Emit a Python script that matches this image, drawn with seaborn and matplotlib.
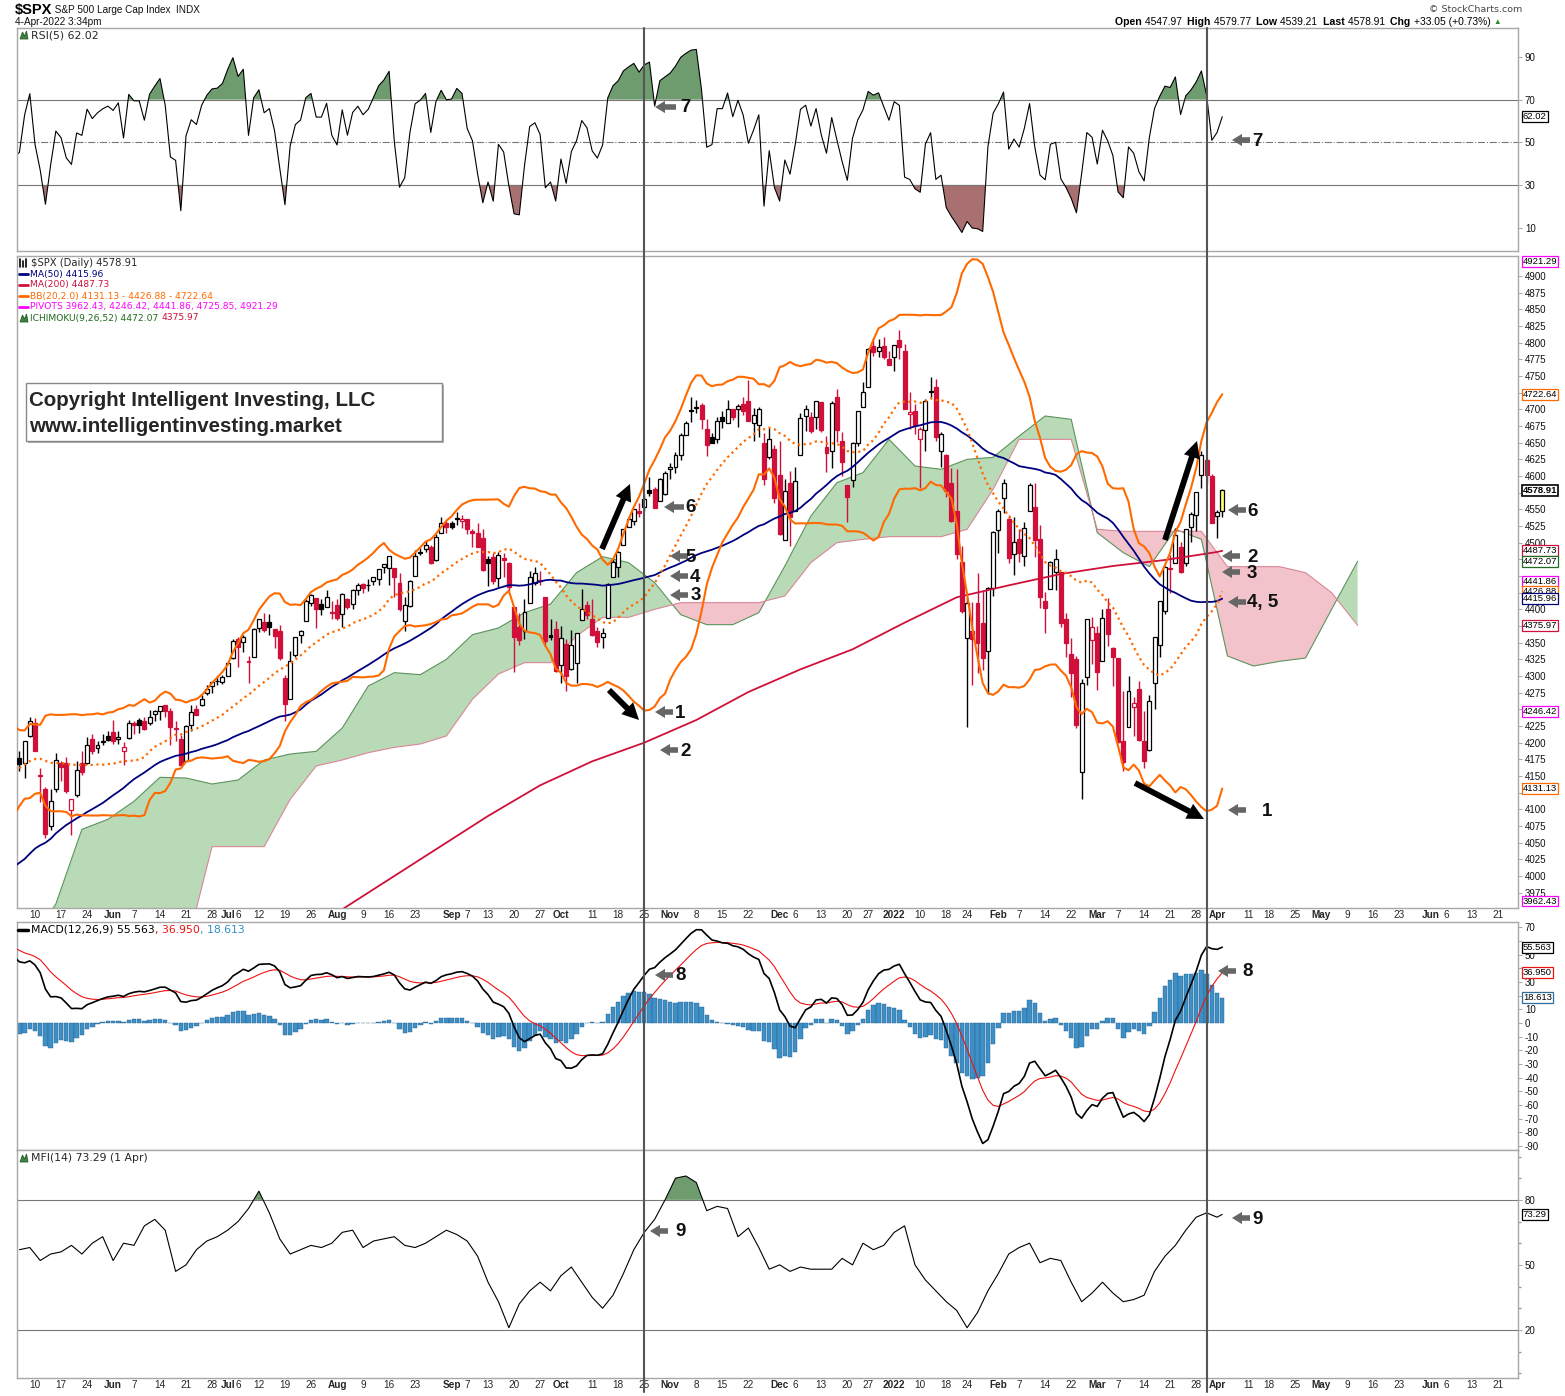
import numpy as np
import pandas as pd
import matplotlib
matplotlib.use("Agg")
import matplotlib.pyplot as plt
import seaborn as sns
from matplotlib.transforms import blended_transform_factory

# ---------------- data ----------------
holidays = ["2021-04-02", "2021-05-31", "2021-07-05", "2021-09-06", "2021-11-25", "2021-12-24",
            "2022-01-17", "2022-02-21", "2022-04-15", "2022-05-30", "2022-06-20"]

# closes before the first visible bar (2021-02-23 .. 2021-05-04), used to warm up the indicators
pre_close = [3881, 3925, 3829, 3811, 3902, 3870, 3820, 3768, 3842, 3821, 3875, 3899, 3939, 3943,
             3969, 3963, 3974, 3915, 3913, 3941, 3911, 3889, 3910, 3975, 3971, 3959, 3973, 4020,
             4078, 4074, 4080, 4097, 4129, 4128, 4142, 4125, 4170, 4185, 4163, 4135, 4173, 4135,
             4180, 4188, 4187, 4183, 4211, 4181, 4193, 4165]

# visible daily bars 2021-05-05 .. 2022-04-04
opens = [4177, 4170, 4210, 4229, 4150, 4131, 4075, 4130, 4169, 4170, 4099, 4122, 4169, 4170, 4205, 4192, 4201, 4210,
         4216, 4206, 4187, 4207, 4229, 4234, 4232, 4229, 4243, 4248, 4256, 4248, 4220, 4205, 4173, 4226, 4250, 4256, 4274, 4285, 4293, 4291,
         4300, 4327, 4356, 4351, 4322, 4329, 4372, 4381, 4381, 4370, 4367, 4297, 4266, 4331, 4361, 4382, 4410, 4417, 4408, 4404, 4396,
         4407, 4393, 4415, 4408, 4429, 4438, 4436, 4442, 4446, 4464, 4462, 4462, 4440, 4383, 4405, 4450, 4484, 4490, 4493, 4474, 4514, 4529,
         4529, 4535, 4532, 4536, 4518, 4514, 4507, 4475, 4479, 4447, 4477, 4469, 4403, 4374, 4368, 4410, 4439, 4443, 4419, 4362, 4371,
         4317, 4348, 4310, 4320, 4384, 4406, 4386, 4368, 4359, 4387, 4448, 4464, 4497, 4524, 4532, 4547, 4554, 4579, 4580, 4563, 4573,
         4610, 4614, 4631, 4662, 4699, 4702, 4707, 4670, 4659, 4656, 4689, 4679, 4701, 4700, 4708, 4712, 4679, 4676, 4650, 4628, 4641,
         4602, 4504, 4589, 4548, 4631, 4690, 4688, 4688, 4711, 4643, 4637, 4719, 4652, 4587, 4594, 4650, 4704, 4733, 4795, 4788, 4795, 4776,
         4779, 4804, 4787, 4693, 4698, 4655, 4669, 4728, 4734, 4637, 4632, 4589, 4548, 4471, 4357, 4367, 4409, 4380, 4337, 4432,
         4519, 4567, 4536, 4483, 4506, 4480, 4548, 4554, 4506, 4413, 4430, 4456, 4456, 4385, 4333, 4325, 4156, 4298, 4354,
         4364, 4323, 4401, 4342, 4327, 4203, 4224, 4253, 4280, 4203, 4189, 4289, 4346, 4398, 4462, 4470, 4494, 4470, 4523, 4541, 4602, 4624, 4600,
         4540, 4547.97]
highs = [4187, 4202, 4238, 4237, 4162, 4134, 4131, 4184, 4172, 4178, 4116, 4172, 4188, 4209, 4213, 4203, 4213, 4218,
         4234, 4217, 4201, 4234, 4233, 4237, 4238, 4249, 4249, 4255, 4257, 4252, 4233, 4212, 4226, 4256, 4257, 4272, 4286, 4292, 4300, 4302,
         4321, 4355, 4358, 4362, 4330, 4372, 4386, 4394, 4393, 4370, 4376, 4301, 4337, 4359, 4369, 4415, 4423, 4416, 4416, 4429, 4413,
         4415, 4424, 4417, 4430, 4440, 4440, 4446, 4449, 4461, 4468, 4480, 4462, 4455, 4418, 4444, 4489, 4492, 4502, 4496, 4513, 4538, 4532,
         4532, 4546, 4541, 4536, 4521, 4529, 4521, 4480, 4485, 4486, 4485, 4471, 4403, 4394, 4416, 4457, 4464, 4457, 4419, 4385, 4382,
         4375, 4356, 4369, 4365, 4430, 4412, 4415, 4374, 4372, 4439, 4475, 4487, 4520, 4540, 4551, 4560, 4573, 4598, 4584, 4597, 4608,
         4620, 4636, 4664, 4683, 4718, 4714, 4709, 4685, 4665, 4688, 4698, 4714, 4701, 4708, 4718, 4744, 4702, 4703, 4664, 4672, 4647,
         4652, 4596, 4608, 4613, 4694, 4706, 4696, 4713, 4711, 4660, 4712, 4731, 4666, 4587, 4651, 4697, 4741, 4792, 4807, 4805, 4809, 4787,
         4797, 4819, 4798, 4726, 4708, 4673, 4715, 4749, 4745, 4666, 4633, 4612, 4611, 4495, 4418, 4411, 4454, 4428, 4433, 4517,
         4550, 4595, 4542, 4539, 4521, 4531, 4590, 4589, 4527, 4426, 4473, 4490, 4456, 4395, 4357, 4330, 4295, 4385, 4389,
         4375, 4401, 4417, 4343, 4327, 4277, 4300, 4268, 4292, 4248, 4272, 4358, 4412, 4465, 4481, 4522, 4501, 4521, 4546, 4576, 4638, 4627, 4603,
         4549, 4579.77]
lows = [4158, 4147, 4208, 4188, 4111, 4057, 4069, 4126, 4143, 4125, 4062, 4119, 4151, 4168, 4183, 4185, 4197, 4203,
        4198, 4198, 4167, 4205, 4213, 4215, 4219, 4226, 4232, 4234, 4238, 4196, 4203, 4165, 4173, 4217, 4241, 4255, 4271, 4275, 4287, 4288,
        4300, 4326, 4314, 4336, 4290, 4329, 4366, 4366, 4362, 4342, 4324, 4233, 4265, 4329, 4350, 4382, 4405, 4372, 4391, 4404, 4386,
        4384, 4373, 4400, 4401, 4422, 4425, 4427, 4437, 4436, 4455, 4437, 4418, 4397, 4367, 4404, 4450, 4482, 4486, 4468, 4473, 4514, 4514,
        4521, 4527, 4522, 4513, 4494, 4493, 4458, 4435, 4438, 4434, 4448, 4427, 4306, 4347, 4356, 4410, 4437, 4437, 4347, 4354, 4306,
        4289, 4278, 4309, 4290, 4384, 4386, 4360, 4343, 4342, 4387, 4448, 4448, 4496, 4524, 4526, 4538, 4547, 4570, 4552, 4562, 4571,
        4595, 4604, 4624, 4662, 4681, 4695, 4670, 4630, 4649, 4650, 4672, 4679, 4684, 4673, 4692, 4683, 4653, 4659, 4586, 4625, 4560,
        4511, 4504, 4495, 4547, 4631, 4668, 4665, 4670, 4666, 4606, 4612, 4651, 4600, 4531, 4584, 4645, 4704, 4733, 4780, 4779, 4775, 4766,
        4758, 4775, 4700, 4671, 4663, 4582, 4638, 4718, 4653, 4614, 4568, 4531, 4476, 4395, 4223, 4287, 4305, 4309, 4273, 4420,
        4484, 4545, 4470, 4451, 4471, 4465, 4548, 4478, 4402, 4365, 4430, 4429, 4374, 4328, 4268, 4222, 4115, 4287, 4318,
        4279, 4323, 4345, 4285, 4199, 4158, 4224, 4210, 4203, 4162, 4187, 4251, 4329, 4393, 4425, 4470, 4455, 4465, 4501, 4517, 4582, 4589, 4530,
        4507, 4539.21]
closes = [4168, 4202, 4233, 4188, 4152, 4063, 4113, 4174, 4163, 4128, 4116, 4159, 4156, 4197, 4188, 4196, 4201, 4204,
          4202, 4208, 4193, 4230, 4227, 4227, 4220, 4239, 4247, 4255, 4247, 4224, 4222, 4166, 4225, 4246, 4242, 4266, 4281, 4291, 4292, 4298,
          4320, 4352, 4344, 4358, 4321, 4370, 4385, 4369, 4374, 4360, 4327, 4258, 4323, 4359, 4367, 4412, 4422, 4401, 4401, 4419, 4395,
          4387, 4423, 4403, 4429, 4437, 4432, 4437, 4448, 4461, 4468, 4480, 4448, 4400, 4406, 4442, 4480, 4486, 4496, 4470, 4509, 4529, 4523,
          4524, 4537, 4535, 4520, 4514, 4493, 4459, 4469, 4443, 4481, 4474, 4433, 4358, 4354, 4396, 4449, 4455, 4443, 4353, 4359, 4308,
          4357, 4300, 4346, 4364, 4400, 4391, 4361, 4351, 4364, 4438, 4471, 4486, 4520, 4536, 4550, 4545, 4566, 4575, 4552, 4596, 4605,
          4614, 4631, 4661, 4680, 4698, 4702, 4685, 4647, 4649, 4683, 4683, 4701, 4689, 4705, 4698, 4683, 4691, 4701, 4595, 4655, 4567,
          4513, 4577, 4538, 4592, 4687, 4701, 4667, 4712, 4669, 4634, 4710, 4669, 4621, 4568, 4649, 4697, 4726, 4791, 4786, 4793, 4779, 4766,
          4797, 4794, 4701, 4696, 4677, 4670, 4713, 4726, 4659, 4663, 4577, 4533, 4483, 4398, 4410, 4356, 4350, 4327, 4432, 4516,
          4547, 4589, 4477, 4501, 4484, 4522, 4587, 4504, 4419, 4402, 4471, 4475, 4380, 4349, 4305, 4226, 4289, 4385, 4374,
          4306, 4387, 4363, 4329, 4201, 4171, 4278, 4260, 4204, 4173, 4262, 4358, 4412, 4463, 4461, 4512, 4456, 4520, 4543, 4576, 4632, 4602, 4530,
          4545.86, 4578.91]

# 200-day MA, every 10 bars from the first bar, then the last bar
ma200_vals = [3705, 3745, 3785, 3825, 3862, 3900, 3940, 3990, 4040, 4090, 4136, 4172, 4200, 4234,
              4276, 4310, 4340, 4380, 4418, 4436, 4453, 4465, 4474, 4486, 4487.73]

# Ichimoku spans (already shifted 26 bars ahead), every 5 bars from the 3rd bar
span_a = [3900, 3958, 4070, 4085, 4112, 4148, 4147, 4138, 4144, 4174, 4183, 4187, 4222, 4285, 4305, 4302,
          4325, 4362, 4372, 4395, 4408, 4455, 4479, 4470, 4440, 4392, 4377, 4377, 4395, 4465, 4540, 4590,
          4605, 4655, 4615, 4610, 4625, 4628, 4660, 4690, 4685, 4515, 4485, 4464, 4520, 4505, 4330, 4315,
          4322, 4327, 4400, 4472.07]
span_b = [3840, 3850, 3855, 3860, 3870, 3880, 3890, 4044, 4044, 4044, 4115, 4165, 4174, 4185, 4193, 4198,
          4210, 4265, 4303, 4320, 4320, 4360, 4388, 4388, 4400, 4410, 4410, 4410, 4410, 4420, 4470, 4500,
          4505, 4509, 4509, 4509, 4520, 4580, 4655, 4655, 4655, 4520, 4517, 4517, 4517, 4517, 4464, 4464,
          4464, 4455, 4425, 4375.97]

# MFI(14), every 2 bars from the first bar, then the last bar
mfi_vals = [57, 58, 52, 55, 56, 59, 55, 60, 63, 52, 60, 59, 68, 71, 66, 47, 50, 57, 61, 63,
            66, 70, 76, 84, 74, 62, 55, 57, 59, 58, 60, 65, 66, 58, 61, 62, 63, 59, 58, 60,
            63, 66, 64, 61, 54, 42, 33, 21, 32, 38, 42, 38, 45, 49, 42, 35, 30, 36, 46, 57,
            65, 71, 80, 90, 91, 88, 75, 77, 76, 63, 67, 58, 48, 50, 47, 49, 48, 48, 48, 53,
            50, 60, 57, 59, 65, 68, 50, 43, 38, 33, 29, 21, 28, 38, 46, 55, 58, 60, 51, 53,
            52, 42, 33, 37, 42, 37, 33, 34, 36, 47, 54, 59, 66, 72, 74, 72, 73.29]

tick_dates = ["2021-05-10", "2021-05-17", "2021-05-24", "2021-06-01", "2021-06-07", "2021-06-14", "2021-06-21",
              "2021-06-28", "2021-07-01", "2021-07-06", "2021-07-12", "2021-07-19", "2021-07-26", "2021-08-02",
              "2021-08-09", "2021-08-16", "2021-08-23", "2021-09-01", "2021-09-07", "2021-09-13", "2021-09-20",
              "2021-09-27", "2021-10-01", "2021-10-11", "2021-10-18", "2021-10-25", "2021-11-01", "2021-11-08",
              "2021-11-15", "2021-11-22", "2021-12-01", "2021-12-06", "2021-12-13", "2021-12-20", "2021-12-27",
              "2022-01-03", "2022-01-10", "2022-01-18", "2022-01-24", "2022-02-01", "2022-02-07", "2022-02-14",
              "2022-02-22", "2022-03-01", "2022-03-07", "2022-03-14", "2022-03-21", "2022-03-28", "2022-04-01",
              "2022-04-11", "2022-04-18", "2022-04-25", "2022-05-02", "2022-05-09", "2022-05-16", "2022-05-23",
              "2022-06-01", "2022-06-06", "2022-06-13", "2022-06-21"]
tick_labels = ["10", "17", "24", "Jun", "7", "14", "21", "28", "Jul", "6", "12", "19", "26", "Aug", "9", "16", "23",
               "Sep", "7", "13", "20", "27", "Oct", "11", "18", "25", "Nov", "8", "15", "22", "Dec", "6", "13", "20",
               "27", "2022", "10", "18", "24", "Feb", "7", "14", "22", "Mar", "7", "14", "21", "28", "Apr", "11",
               "18", "25", "May", "9", "16", "23", "Jun", "6", "13", "21"]
bold_labels = {"Jun", "Jul", "Aug", "Sep", "Oct", "Nov", "Dec", "2022", "Feb", "Mar", "Apr", "May"}
marker_dates = ["2021-10-25", "2022-03-30"]
price_ticks = list(range(3975, 4901, 25))
price_hidden = {4125, 4250, 4375, 4425, 4450, 4475, 4575, 4725}
macd_ticks = list(range(-90, 71, 10))
macd_hidden = {60, 40, 20}

# ---------------- calendar / indicators ----------------
cal = pd.bdate_range("2021-02-23", "2022-07-29")
cal = cal[~cal.isin(pd.to_datetime(holidays))]
first = cal.get_loc(pd.Timestamp("2021-05-05"))


def xpos(d):
    return cal.get_loc(pd.Timestamp(d)) - first


n_pre = len(pre_close)
full = pd.Series(np.array(pre_close + closes, dtype=float))
xf = np.arange(len(full)) - n_pre
ma50 = full.rolling(50).mean()
bb_mid = full.rolling(20).mean()
bb_sd = full.rolling(20).std(ddof=0)
bb_up = bb_mid + 2 * bb_sd
bb_lo = bb_mid - 2 * bb_sd
delta = full.diff()
ag = delta.clip(lower=0).ewm(alpha=1 / 5, adjust=False).mean()
al = (-delta.clip(upper=0)).ewm(alpha=1 / 5, adjust=False).mean()
rsi = 100 - 100 / (1 + ag / al)
macd = full.ewm(span=12, adjust=False).mean() - full.ewm(span=26, adjust=False).mean()
sig = macd.ewm(span=9, adjust=False).mean()
hist = macd - sig
vis = xf >= -1

o = np.array(opens, float); h = np.array(highs, float)
l = np.array(lows, float); c = np.array(closes, float)
xb = np.arange(len(c))
prev = full.values[n_pre - 1:-1]

# ---------------- figure ----------------
sns.set_theme(style="white")
plt.rcParams['font.family'] = ['Liberation Sans', 'DejaVu Sans']
W, H = 1565, 1396
fig = plt.figure(figsize=(W / 100, H / 100), dpi=100)
fig.patch.set_facecolor("white")
L, R = 17, 1518


def rect(top, bottom):
    return [L / W, 1 - bottom / H, (R - L) / W, (bottom - top) / H]


ax_rsi = fig.add_axes(rect(28, 251))
ax_p = fig.add_axes(rect(256, 908))
ax_m = fig.add_axes(rect(922, 1150))
ax_f = fig.add_axes(rect(1150, 1378))
axes = [ax_rsi, ax_p, ax_m, ax_f]
XL = (-0.46, 287.8)
tpos = [xpos(d) for d in tick_dates]
for ax in axes:
    ax.set_xlim(*XL)
    ax.set_facecolor("white")
    for s in ax.spines.values():
        s.set_color("#a8a8a8"); s.set_linewidth(1.0)
    ax.yaxis.tick_right()
    ax.tick_params(axis="y", right=True, left=False, length=3, width=0.6, color="#999",
                   labelsize=7, pad=2, labelcolor="#111")
    ax.set_xticks(tpos)
    ax.set_xticks(np.arange(0, 288, 1), minor=True)
    ax.tick_params(axis="x", which="both", direction="in", length=2, width=0.5, color="#999",
                   labelsize=7.2, pad=1.5)
    ax.set_xticklabels([])
    ax.grid(False)
    ax.set_xlabel(""); ax.set_ylabel("")

for ax in (ax_p, ax_f):
    ax.set_xticklabels(tick_labels)
    for t in ax.get_xticklabels():
        if t.get_text() in bold_labels:
            t.set_fontweight("bold")

# ---- RSI ----
ax_rsi.set_ylim(-1, 103.6)
ax_rsi.set_yticks([10, 30, 50, 70, 90])
rx = xf[vis]; rv = rsi.values[vis]
ax_rsi.fill_between(rx, 70, rv, where=rv > 70, interpolate=True, color="#6f9c6f", lw=0)
ax_rsi.fill_between(rx, 30, rv, where=rv < 30, interpolate=True, color="#a87070", lw=0)
for lv in (70, 30):
    ax_rsi.axhline(lv, color="#777", lw=0.8)
ax_rsi.axhline(50, color="#777", lw=0.8, ls="-.")
sns.lineplot(x=rx, y=rv, ax=ax_rsi, color="black", linewidth=0.8, estimator=None)

# ---- Price ----
ax_p.set_ylim(3952, 4930)
ax_p.set_yticks(price_ticks)
ax_p.set_yticklabels(["" if t in price_hidden else str(t) for t in price_ticks])
ca = np.arange(len(span_a)) * 5 + 2
sa = np.array(span_a); sb = np.array(span_b)
ax_p.fill_between(ca, sa, sb, where=sa >= sb, interpolate=True, color="#b9dab7", lw=0, zorder=1)
ax_p.fill_between(ca, sa, sb, where=sa < sb, interpolate=True, color="#f2c3cb", lw=0, zorder=1)
ax_p.plot(ca, sa, color="#5c935c", lw=0.8, zorder=1.5)
ax_p.plot(ca, sb, color="#d98797", lw=0.8, zorder=1.5)

red, blk = "#d0103a", "#000000"
for i in range(len(c)):
    col = red if c[i] < prev[i] else blk
    filled = c[i] < o[i]
    face = col if filled else "white"
    if i == len(c) - 1:
        face = "#ffff70"
    ax_p.vlines(xb[i], l[i], h[i], color=col, lw=1.0, zorder=3)
    lo_b = min(o[i], c[i]); hgt = max(abs(c[i] - o[i]), 1.2)
    ax_p.bar(xb[i], hgt, bottom=lo_b, width=0.76, color=face, edgecolor=col, linewidth=0.9, zorder=4)

mx = np.append(np.arange(len(ma200_vals) - 1) * 10, len(c) - 1)
sns.lineplot(x=mx, y=ma200_vals, ax=ax_p, color="#d0103a", linewidth=1.3, estimator=None, zorder=5)
sns.lineplot(x=rx, y=ma50.values[vis], ax=ax_p, color="#00007f", linewidth=1.3, estimator=None, zorder=5)
sns.lineplot(x=rx, y=bb_up.values[vis], ax=ax_p, color="#ff6a00", linewidth=1.5, estimator=None, zorder=6)
sns.lineplot(x=rx, y=bb_lo.values[vis], ax=ax_p, color="#ff6a00", linewidth=1.5, estimator=None, zorder=6)
ax_p.plot(rx, bb_mid.values[vis], color="#ff6a00", lw=1.6, ls=(0, (1, 1.6)), zorder=6)

# ---- MACD ----
ax_m.set_ylim(-93, 74)
ax_m.set_yticks(macd_ticks)
ax_m.set_yticklabels(["" if t in macd_hidden else str(t) for t in macd_ticks])
ax_m.bar(xf[vis], hist.values[vis], width=0.85, color="#3d8fc6", edgecolor="#245f8c", linewidth=0.3, zorder=2)
sns.lineplot(x=rx, y=sig.values[vis], ax=ax_m, color="#ee1111", linewidth=0.8, estimator=None, zorder=3)
sns.lineplot(x=rx, y=macd.values[vis], ax=ax_m, color="black", linewidth=1.2, estimator=None, zorder=4)

# ---- MFI ----
ax_f.set_ylim(-2.2, 103)
ax_f.set_yticks([20, 50, 80])
ax_f.set_yticks(np.arange(0, 101, 10), minor=True)
ax_f.tick_params(axis="y", which="minor", right=True, length=2, color="#999")
fx = np.append(np.arange(len(mfi_vals) - 1) * 2, len(c) - 1)
fv = np.array(mfi_vals)
ax_f.fill_between(fx, 80, fv, where=fv > 80, interpolate=True, color="#6f9c6f", lw=0)
for lv in (80, 20):
    ax_f.axhline(lv, color="#777", lw=0.8)
sns.lineplot(x=fx, y=fv, ax=ax_f, color="black", linewidth=0.8, estimator=None)

# ---------------- overlay (pixel coordinates) ----------------
ov = fig.add_axes([0, 0, 1, 1], zorder=20)
ov.set_xlim(0, W); ov.set_ylim(H, 0); ov.axis("off"); ov.patch.set_alpha(0)
btr = blended_transform_factory(ax_p.transData, ov.transData)
for d in marker_dates:
    ov.plot([xpos(d)] * 2, [28, 1392], color="#555", lw=1.5, transform=btr, zorder=1)

rend = fig.canvas.get_renderer()


def runs(x, y, parts, **kw):
    for txt, col, wt, size in parts:
        t = ov.text(x, y, txt, color=col, fontweight=wt, fontsize=size, va="center", ha="left", **kw)
        bb = t.get_window_extent(renderer=rend)
        x += bb.width


# header
runs(15, 10, [("$SPX", "black", "bold", 10.5), (" S&P 500 Large Cap Index  INDX", "#111", "normal", 7.2)])
ov.text(15, 22, "4-Apr-2022 3:34pm", fontsize=7.2, va="center", color="#111")
ov.text(1522, 9, "\u00a9 StockCharts.com", fontsize=6.8, va="center", ha="right", color="#444",
        family=["DejaVu Sans"])
runs(1115, 22, [("Open ", "black", "bold", 7.6), ("4547.97  ", "black", "normal", 7.4),
                ("High ", "black", "bold", 7.6), ("4579.77  ", "black", "normal", 7.4),
                ("Low ", "black", "bold", 7.6), ("4539.21  ", "black", "normal", 7.4),
                ("Last ", "black", "bold", 7.6), ("4578.91  ", "black", "normal", 7.4),
                ("Chg ", "black", "bold", 7.6), ("+33.05 (+0.73%) ", "black", "normal", 7.4),
                ("\u25b2", "#2a8a2a", "normal", 5.5)])


def mountain(x, y):
    ov.fill([x, x + 2.5, x + 4.5, x + 6.5, x + 8, x], [y + 4, y - 3, y + 1, y - 4, y + 4, y + 4],
            color="#3f7f3f", lw=0.6, ec="#2a5f2a")


LF = ["DejaVu Sans"]
mountain(20, 35)
ov.text(31, 35, "RSI(5) 62.02", fontsize=7.8, va="center", family=LF)
# price legend
for k, xx in enumerate([20, 23, 26]):
    ov.plot([xx, xx], [259 + (k % 2) * 2, 267], color="black", lw=1.2)
ov.text(31, 263, "$SPX (Daily) 4578.91", fontsize=7.2, va="center", family=LF)
leg = [("MA(50) 4415.96", "#00007f"), ("MA(200) 4487.73", "#d0103a"),
       ("BB(20,2.0) 4131.13 - 4426.88 - 4722.64", "#ff6a00"),
       ("PIVOTS 3962.43, 4246.42, 4441.86, 4725.85, 4921.29", "#ff00ff")]
for k, (txt, col) in enumerate(leg):
    yy = 274 + 11 * k
    ov.plot([19, 28], [yy, yy], color=col, lw=2)
    ov.text(30, yy, txt, fontsize=6.6, va="center", color=col, family=LF)
mountain(20, 318)
runs(30, 318, [("ICHIMOKU(9,26,52) 4472.07 ", "#1e6a1e", "normal", 6.6), ("4375.97", "#d0103a", "normal", 6.6)],
     family=LF)
# MACD legend
ov.plot([18, 28], [930, 930], color="black", lw=2.5)
runs(31, 930, [("MACD(12,26,9) 55.563", "black", "normal", 7.8), (", 36.950", "#ee1111", "normal", 7.8),
               (", 18.613", "#2f8fc8", "normal", 7.8)], family=LF)
mountain(20, 1158)
ov.text(31, 1158, "MFI(14) 73.29 (1 Apr)", fontsize=7.8, va="center", family=LF)

# copyright box
ov.add_patch(plt.Rectangle((28, 385), 416, 58, fc="#b0b0b0", ec="none", zorder=2))
ov.add_patch(plt.Rectangle((26, 383), 416, 58, fc="white", ec="#888", lw=1, zorder=3))
ov.text(29, 400, "Copyright Intelligent Investing, LLC", fontsize=14.8, fontweight="bold", va="center", zorder=4)
ov.text(29, 426, "www.intelligentinvesting.market", fontsize=14.8, fontweight="bold", va="center", zorder=4)


# gray arrows with numbers
def garrow(x0, x1, y, label, xt):
    ov.annotate("", xy=(x0, y), xytext=(x1, y),
                arrowprops=dict(arrowstyle="simple,head_length=0.9,head_width=1.1,tail_width=0.5",
                                fc="#666", ec="#666", lw=0, shrinkA=0, shrinkB=0, mutation_scale=8))
    ov.text(xt, y + 1, label, fontsize=13.5, fontweight="bold", va="center", ha="left", color="#111")


for args in [(655, 676, 107, "7", 680), (1232, 1250, 140, "7", 1252),
             (664, 684, 507, "6", 685), (670, 688, 556, "5", 685), (670, 688, 576, "4", 690),
             (670, 688, 595, "3", 691), (655, 673, 712, "1", 675), (660, 678, 750, "2", 680),
             (1228, 1246, 510, "6", 1247), (1222, 1240, 556, "2", 1247), (1222, 1240, 572, "3", 1247),
             (1228, 1246, 602, "4, 5", 1247), (1228, 1246, 810, "1", 1262),
             (655, 673, 975, "8", 675), (1218, 1236, 971, "8", 1242),
             (650, 668, 1231, "9", 675), (1232, 1250, 1218, "9", 1252)]:
    garrow(*args)

# black trend arrows
for (x0, y0, x1, y1) in [(602, 549, 630, 484), (609, 690, 639, 720), (1165, 540, 1197, 441), (1135, 783, 1204, 819)]:
    ov.annotate("", xy=(x1, y1), xytext=(x0, y0),
                arrowprops=dict(arrowstyle="simple,head_length=1.0,head_width=1.0,tail_width=0.35",
                                fc="black", ec="black", lw=0, shrinkA=0, shrinkB=0, mutation_scale=12))


# right side value tags
def tag(ax, val, text, ec, bold=False):
    ax.annotate(text, xy=(1.0, val), xycoords=("axes fraction", "data"), xytext=(3.5, 0),
                textcoords="offset points", va="center", ha="left", fontsize=6.8,
                fontweight="bold" if bold else "normal", color="black", annotation_clip=False,
                bbox=dict(boxstyle="square,pad=0.1", fc="white", ec=ec, lw=1.2 if bold else 0.9), zorder=30)


tag(ax_rsi, 62.02, "62.02", "black")
for v, t, e, b in [(4921.29, "4921.29", "#ff00ff", False), (4722.64, "4722.64", "#ff6a00", False),
                   (4578.91, "4578.91", "black", True), (4487.73, "4487.73", "#d0103a", False),
                   (4472.07, "4472.07", "#1e6a1e", False), (4441.86, "4441.86", "#ff00ff", False),
                   (4426.88, "4426.88", "#ff6a00", False), (4415.96, "4415.96", "#00007f", False),
                   (4375.97, "4375.97", "#d0103a", False), (4246.42, "4246.42", "#ff00ff", False),
                   (4131.13, "4131.13", "#ff6a00", False), (3962.43, "3962.43", "#ff00ff", False)]:
    tag(ax_p, v, t, e, b)
tag(ax_m, 55.563, "55.563", "black")
tag(ax_m, 36.95, "36.950", "#ee1111")
tag(ax_m, 18.613, "18.613", "#2f6f9f")
tag(ax_f, 73.29, "73.29", "black")

fig.savefig("out.png", dpi=100, facecolor="white")
